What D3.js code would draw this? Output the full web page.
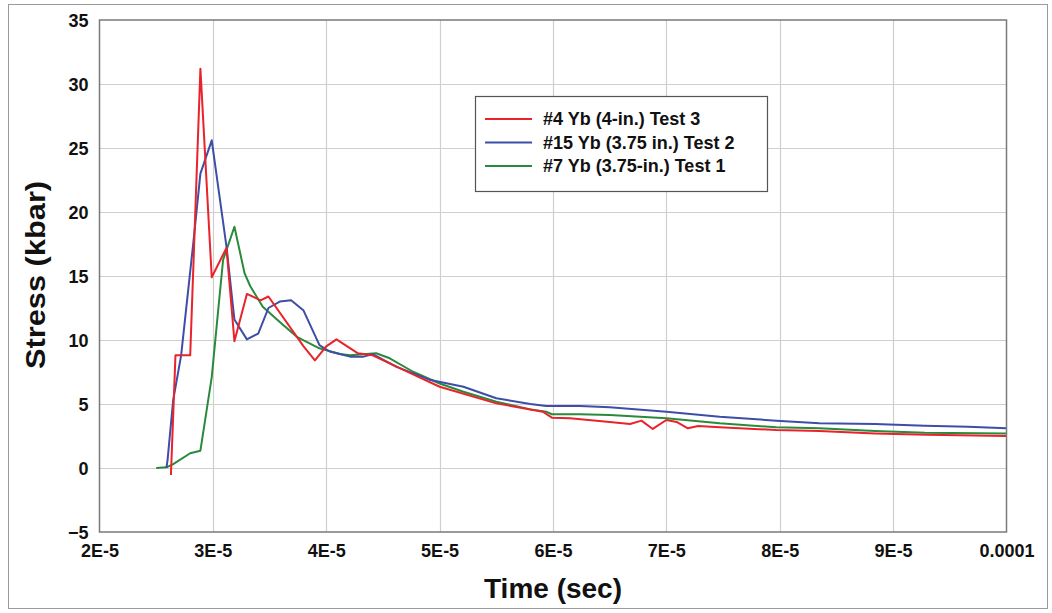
<!DOCTYPE html>
<html>
<head>
<meta charset="utf-8">
<script src="https://cdn.jsdelivr.net/npm/d3@7"></script>
<style>
  html, body { margin: 0; padding: 0; background: #fff; }
  svg { display: block; font-family: "Liberation Sans", Arial, sans-serif; }
</style>
</head>
<body>
<svg id="chart" width="1052" height="613"></svg>
<script>
// Time axis ticks (seconds) and their printed labels
const xTicks = [2e-5, 3e-5, 4e-5, 5e-5, 6e-5, 7e-5, 8e-5, 9e-5, 1e-4];
const xTickLabels = ["2E-5", "3E-5", "4E-5", "5E-5", "6E-5", "7E-5", "8E-5", "9E-5", "0.0001"];
const yTicks = [-5, 0, 5, 10, 15, 20, 25, 30, 35];

const seriesNames = ["#4 Yb (4-in.) Test 3", "#15 Yb (3.75 in.) Test 2", "#7 Yb (3.75-in.) Test 1"];
const seriesColors = ["#e8232b", "#3d4ea6", "#2a8a3c"];

// time in units of 1E-5 s, stress in kbar
const test3Time = [2.63, 2.67, 2.80, 2.89, 2.99, 3.12, 3.19, 3.30, 3.42, 3.49, 3.80, 3.90, 4.00, 4.09, 4.28, 4.41, 4.77, 5.00, 5.50, 5.91, 5.99, 6.15, 6.50, 6.68, 6.78, 6.88, 7.00, 7.09, 7.19, 7.28, 7.47, 7.97, 8.35, 8.84, 9.30, 10.0];
const test3Stress = [-0.55, 8.8, 8.8, 31.2, 14.9, 17.2, 9.9, 13.6, 13.1, 13.4, 9.5, 8.4, 9.5, 10.05, 8.96, 8.8, 7.3, 6.35, 5.05, 4.4, 3.93, 3.88, 3.6, 3.44, 3.7, 3.05, 3.75, 3.6, 3.1, 3.28, 3.18, 2.97, 2.89, 2.7, 2.6, 2.5];

const test2Time = [2.59, 2.60, 2.65, 2.72, 2.83, 2.89, 2.99, 3.12, 3.19, 3.30, 3.40, 3.49, 3.59, 3.69, 3.80, 3.94, 4.03, 4.12, 4.21, 4.33, 4.41, 4.62, 4.91, 5.21, 5.50, 5.80, 5.94, 6.24, 6.50, 7.00, 7.47, 7.97, 8.35, 8.84, 9.28, 9.66, 10.0];
const test2Stress = [0.0, 0.6, 5.3, 8.8, 17.8, 23.0, 25.6, 17.3, 11.6, 10.05, 10.5, 12.5, 13.0, 13.1, 12.3, 9.6, 9.1, 8.9, 8.7, 8.7, 8.9, 7.9, 6.9, 6.35, 5.45, 5.0, 4.84, 4.84, 4.74, 4.4, 4.0, 3.7, 3.5, 3.44, 3.3, 3.23, 3.1];

const test1Time = [2.50, 2.59, 2.65, 2.80, 2.89, 2.99, 3.05, 3.09, 3.19, 3.28, 3.33, 3.44, 3.59, 3.74, 3.94, 4.12, 4.21, 4.44, 4.56, 4.77, 5.00, 5.21, 5.50, 5.80, 5.94, 5.99, 6.24, 6.50, 7.00, 7.47, 7.97, 8.35, 8.84, 9.28, 10.0];
const test1Stress = [0.0, 0.05, 0.3, 1.15, 1.35, 7.1, 12.6, 16.25, 18.85, 15.2, 14.2, 12.6, 11.4, 10.25, 9.35, 8.9, 8.8, 8.96, 8.57, 7.5, 6.6, 5.96, 5.18, 4.58, 4.4, 4.2, 4.2, 4.14, 3.88, 3.49, 3.18, 3.1, 2.9, 2.76, 2.7];

const svg = d3.select("#chart");
const plot = { left: 99.5, right: 1006.5, top: 20, bottom: 532 };
const fontFamily = "'Liberation Sans', Arial, sans-serif";

const x = d3.scaleLinear().domain([2e-5, 1e-4]).range([plot.left, plot.right]);
const y = d3.scaleLinear().domain([-5, 35]).range([plot.bottom, plot.top]);

// outer frame
svg.append("rect")
  .attr("x", 8.5).attr("y", 4.5).attr("width", 1039).attr("height", 604)
  .attr("fill", "none").attr("stroke", "#9a9a9a").attr("stroke-width", 1);

// gridlines
const grid = svg.append("g");
grid.selectAll("line.v").data(xTicks.slice(1, -1)).join("line")
  .attr("x1", d => Math.round(x(d)) + 0.5).attr("x2", d => Math.round(x(d)) + 0.5)
  .attr("y1", plot.top).attr("y2", plot.bottom)
  .attr("stroke", "#cfcfcf").attr("stroke-width", 1.2);
grid.selectAll("line.h").data(yTicks.slice(1, -1)).join("line")
  .attr("x1", plot.left).attr("x2", plot.right)
  .attr("y1", d => Math.round(y(d)) + 0.5).attr("y2", d => Math.round(y(d)) + 0.5)
  .attr("stroke", "#cfcfcf").attr("stroke-width", 1.2);

// axes (labels only, no tick marks)
const xAxis = d3.axisBottom(x).tickValues(xTicks)
  .tickFormat((d, i) => xTickLabels[i]).tickSize(0).tickPadding(0);
const gx = svg.append("g").attr("transform", `translate(0,${plot.bottom})`).call(xAxis);
gx.select(".domain").remove();
gx.selectAll("text")
  .attr("y", 25).attr("dy", 0)
  .attr("font-size", 18).attr("font-weight", "bold").attr("fill", "#111")
  .attr("font-family", fontFamily);

const yAxis = d3.axisLeft(y).tickValues(yTicks).tickSize(0).tickPadding(0);
const gy = svg.append("g").attr("transform", `translate(${plot.left - 11},0)`).call(yAxis);
gy.select(".domain").remove();
gy.selectAll("text")
  .attr("x", 0).attr("dy", "0.36em")
  .attr("font-size", 18).attr("font-weight", "bold").attr("fill", "#111")
  .attr("font-family", fontFamily);

// series lines
const line = d3.line().x(d => x(d[0] * 1e-5)).y(d => y(d[1]));
const series = [
  { time: test3Time, stress: test3Stress },
  { time: test2Time, stress: test2Stress },
  { time: test1Time, stress: test1Stress }
];
// drawn back-to-front: green, blue, red
[2, 1, 0].forEach(i => {
  const pts = d3.zip(series[i].time, series[i].stress);
  svg.append("path")
    .attr("d", line(pts))
    .attr("fill", "none")
    .attr("stroke", seriesColors[i])
    .attr("stroke-width", 2)
    .attr("stroke-linejoin", "round");
});

// plot border
svg.append("rect")
  .attr("x", plot.left).attr("y", plot.top)
  .attr("width", plot.right - plot.left).attr("height", plot.bottom - plot.top)
  .attr("fill", "none").attr("stroke", "#7a7a7a").attr("stroke-width", 1.5);

// axis titles
svg.append("text")
  .attr("x", 553).attr("y", 598)
  .attr("text-anchor", "middle")
  .attr("font-size", 28).attr("font-weight", "bold").attr("fill", "#111")
  .text("Time (sec)");
svg.append("text")
  .attr("transform", `translate(45,275) rotate(-90) scale(1.1,1)`)
  .attr("text-anchor", "middle")
  .attr("font-size", 28).attr("font-weight", "bold").attr("fill", "#111")
  .text("Stress (kbar)");

// legend
const legend = svg.append("g").attr("transform", "translate(475,96)");
legend.append("rect")
  .attr("x", 0.5).attr("y", 0.5).attr("width", 292).attr("height", 95)
  .attr("fill", "#fff").attr("stroke", "#555").attr("stroke-width", 1.2);
seriesNames.forEach((name, i) => {
  const ly = 23 + i * 23.5;
  legend.append("line")
    .attr("x1", 10).attr("x2", 57).attr("y1", ly).attr("y2", ly)
    .attr("stroke", seriesColors[i]).attr("stroke-width", 2);
  legend.append("text")
    .attr("x", 68).attr("y", ly).attr("dy", "0.36em")
    .attr("font-size", 18).attr("font-weight", "bold").attr("fill", "#111")
    .text(name);
});
</script>
</body>
</html>
